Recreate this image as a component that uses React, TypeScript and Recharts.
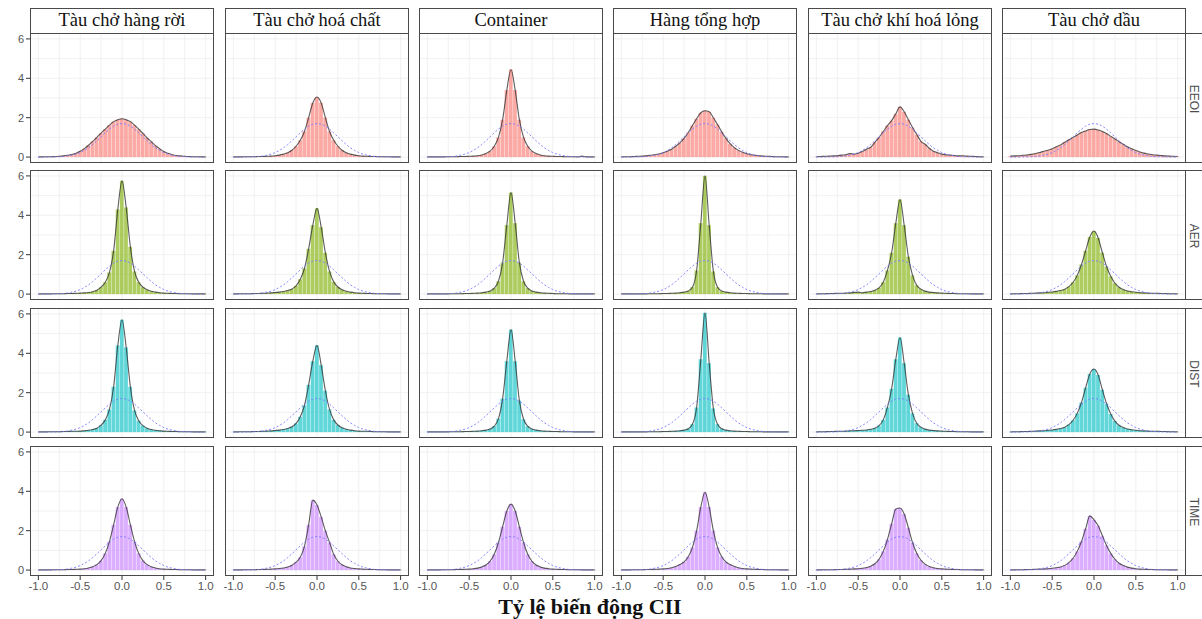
import React from 'react'
import { ComposedChart, Bar, Line, XAxis, YAxis, CartesianGrid } from 'recharts'

// ship types (columns) and CII metrics (rows)
const shipTypes = ['Tàu chở hàng rời', 'Tàu chở hoá chất', 'Container', 'Hàng tổng hợp', 'Tàu chở khí hoá lỏng', 'Tàu chở dầu']
const metrics = ['EEOI', 'AER', 'DIST', 'TIME']
const metricColors = ['#F8766D', '#7CAE00', '#00BFC4', '#C77CFF']

const xTicks = [-1, -0.5, 0, 0.5, 1]
const yTicks = [0, 2, 4, 6]
const gridX = [-1, -0.75, -0.5, -0.25, 0, 0.25, 0.5, 0.75, 1]
const gridY = [0, 1, 2, 3, 4, 5, 6]

// bin centres
const xs = [-1, -0.95, -0.9, -0.85, -0.8, -0.75, -0.7, -0.65, -0.6, -0.55, -0.5, -0.45, -0.4, -0.35, -0.3, -0.25, -0.2, -0.15, -0.1, -0.05,
  0, 0.05, 0.1, 0.15, 0.2, 0.25, 0.3, 0.35, 0.4, 0.45, 0.5, 0.55, 0.6, 0.65, 0.7, 0.75, 0.8, 0.85, 0.9, 0.95, 1]

// dashed reference curve (same in every panel)
const normalRef = [0, 0, 0, 0.01, 0.01, 0.02, 0.03, 0.06, 0.1, 0.15, 0.23, 0.34, 0.47, 0.64, 0.83, 1.03, 1.23, 1.42, 1.57, 1.67,
  1.7, 1.67, 1.57, 1.42, 1.23, 1.03, 0.83, 0.64, 0.47, 0.34, 0.23, 0.15, 0.1, 0.06, 0.03, 0.02, 0.01, 0.01, 0, 0, 0]

// EEOI
const eeoiBulk = [0.01, 0.01, 0.02, 0.02, 0.03, 0.04, 0.06, 0.09, 0.13, 0.2, 0.3, 0.43, 0.6, 0.8, 1.0, 1.22, 1.42, 1.62, 1.8, 1.9,
  1.95, 1.9, 1.8, 1.62, 1.42, 1.2, 0.98, 0.78, 0.58, 0.42, 0.28, 0.19, 0.12, 0.08, 0.06, 0.04, 0.03, 0.02, 0.02, 0.01, 0.01]
const eeoiChem = [0.01, 0.01, 0.01, 0.02, 0.02, 0.02, 0.03, 0.03, 0.04, 0.05, 0.07, 0.1, 0.15, 0.22, 0.35, 0.55, 0.85, 1.3, 2.0, 2.75,
  3.05, 2.75, 2.0, 1.3, 0.85, 0.55, 0.35, 0.22, 0.15, 0.1, 0.07, 0.05, 0.04, 0.03, 0.03, 0.02, 0.02, 0.02, 0.01, 0.01, 0.01]
const eeoiCont = [0.01, 0.01, 0.01, 0.01, 0.01, 0.02, 0.02, 0.02, 0.03, 0.03, 0.04, 0.05, 0.07, 0.11, 0.18, 0.3, 0.55, 1.0, 1.9, 3.4,
  4.45, 3.4, 1.9, 1.0, 0.55, 0.3, 0.18, 0.11, 0.07, 0.05, 0.04, 0.03, 0.03, 0.02, 0.02, 0.02, 0.01, 0.05, 0.01, 0.01, 0.01]
const eeoiGen = [0.01, 0.02, 0.02, 0.03, 0.04, 0.05, 0.07, 0.09, 0.12, 0.16, 0.22, 0.3, 0.4, 0.55, 0.72, 0.95, 1.25, 1.6, 1.95, 2.25,
  2.35, 2.3, 2.0, 1.65, 1.28, 0.95, 0.68, 0.48, 0.34, 0.24, 0.17, 0.12, 0.09, 0.07, 0.05, 0.04, 0.03, 0.02, 0.02, 0.01, 0.01]
const eeoiGas = [0.02, 0.03, 0.04, 0.05, 0.06, 0.07, 0.1, 0.12, 0.18, 0.15, 0.2, 0.28, 0.4, 0.5, 0.75, 1.0, 1.3, 1.6, 1.85, 2.2,
  2.55, 2.3, 1.9, 1.5, 1.15, 0.8, 0.65, 0.45, 0.3, 0.22, 0.15, 0.12, 0.1, 0.08, 0.06, 0.07, 0.05, 0.04, 0.03, 0.02, 0.01]
const eeoiTank = [0.05, 0.06, 0.07, 0.09, 0.11, 0.14, 0.18, 0.23, 0.3, 0.35, 0.42, 0.52, 0.62, 0.75, 0.88, 1.0, 1.12, 1.25, 1.33, 1.4,
  1.42, 1.38, 1.3, 1.2, 1.05, 0.92, 0.78, 0.65, 0.52, 0.42, 0.33, 0.26, 0.2, 0.16, 0.12, 0.1, 0.08, 0.06, 0.05, 0.04, 0.03]

// AER
const aerBulk = [0.01, 0.01, 0.01, 0.01, 0.02, 0.02, 0.02, 0.03, 0.03, 0.04, 0.05, 0.06, 0.08, 0.12, 0.2, 0.35, 0.6, 1.1, 2.2, 4.3,
  5.75, 4.4, 2.4, 1.15, 0.6, 0.35, 0.22, 0.14, 0.1, 0.07, 0.05, 0.04, 0.03, 0.03, 0.02, 0.02, 0.02, 0.01, 0.01, 0.01, 0.01]
const aerChem = [0.01, 0.01, 0.02, 0.02, 0.02, 0.03, 0.03, 0.04, 0.05, 0.06, 0.08, 0.1, 0.13, 0.18, 0.26, 0.42, 0.75, 1.3, 2.3, 3.5,
  4.35, 3.4, 2.1, 1.15, 0.62, 0.36, 0.22, 0.14, 0.1, 0.07, 0.05, 0.04, 0.03, 0.03, 0.02, 0.02, 0.02, 0.01, 0.01, 0.01, 0.01]
const aerCont = [0.01, 0.01, 0.01, 0.01, 0.01, 0.01, 0.02, 0.02, 0.02, 0.03, 0.03, 0.04, 0.05, 0.07, 0.1, 0.16, 0.3, 0.65, 1.6, 3.5,
  5.15, 3.6, 1.6, 0.65, 0.3, 0.16, 0.1, 0.07, 0.05, 0.04, 0.03, 0.02, 0.02, 0.02, 0.01, 0.01, 0.01, 0.01, 0.01, 0.01, 0.01]
const aerGen = [0.01, 0.01, 0.01, 0.01, 0.01, 0.01, 0.01, 0.02, 0.02, 0.02, 0.03, 0.03, 0.04, 0.05, 0.07, 0.1, 0.16, 0.35, 1.2, 3.6,
  6.0, 3.5, 1.15, 0.35, 0.16, 0.1, 0.07, 0.05, 0.04, 0.03, 0.03, 0.02, 0.02, 0.02, 0.01, 0.01, 0.01, 0.01, 0.01, 0.01, 0.01]
const aerGas = [0.01, 0.02, 0.02, 0.03, 0.03, 0.04, 0.04, 0.05, 0.06, 0.08, 0.1, 0.07, 0.1, 0.13, 0.2, 0.32, 0.6, 1.2, 2.1, 3.6,
  4.8, 3.5, 1.9, 0.95, 0.45, 0.25, 0.15, 0.1, 0.08, 0.06, 0.05, 0.04, 0.03, 0.03, 0.02, 0.02, 0.02, 0.01, 0.01, 0.01, 0.01]
const aerTank = [0.01, 0.02, 0.02, 0.03, 0.03, 0.04, 0.05, 0.06, 0.07, 0.09, 0.11, 0.14, 0.18, 0.25, 0.38, 0.6, 0.95, 1.5, 2.2, 2.9,
  3.2, 2.85, 2.1, 1.4, 0.9, 0.55, 0.35, 0.23, 0.16, 0.12, 0.09, 0.07, 0.06, 0.05, 0.04, 0.04, 0.03, 0.03, 0.02, 0.02, 0.01]

// DIST
const distBulk = [0.01, 0.01, 0.01, 0.02, 0.02, 0.02, 0.03, 0.03, 0.04, 0.04, 0.05, 0.07, 0.09, 0.13, 0.2, 0.35, 0.62, 1.15, 2.3, 4.4,
  5.7, 4.3, 2.3, 1.1, 0.58, 0.33, 0.2, 0.13, 0.09, 0.07, 0.05, 0.04, 0.03, 0.03, 0.02, 0.02, 0.02, 0.01, 0.01, 0.01, 0.01]
const distChem = [0.01, 0.01, 0.02, 0.02, 0.02, 0.03, 0.03, 0.04, 0.05, 0.06, 0.08, 0.1, 0.13, 0.18, 0.27, 0.44, 0.78, 1.35, 2.4, 3.6,
  4.4, 3.4, 2.1, 1.15, 0.62, 0.36, 0.22, 0.14, 0.1, 0.07, 0.05, 0.04, 0.04, 0.03, 0.02, 0.02, 0.02, 0.01, 0.01, 0.01, 0.01]
const distCont = [0.01, 0.01, 0.01, 0.01, 0.01, 0.01, 0.02, 0.02, 0.02, 0.03, 0.03, 0.04, 0.05, 0.07, 0.1, 0.16, 0.3, 0.68, 1.7, 3.6,
  5.2, 3.6, 1.6, 0.65, 0.3, 0.16, 0.1, 0.07, 0.05, 0.04, 0.03, 0.03, 0.02, 0.02, 0.02, 0.01, 0.01, 0.01, 0.01, 0.01, 0.01]
const distGen = [0.01, 0.01, 0.01, 0.01, 0.01, 0.01, 0.01, 0.02, 0.02, 0.02, 0.03, 0.03, 0.04, 0.05, 0.07, 0.1, 0.17, 0.4, 1.25, 3.7,
  6.05, 3.5, 1.2, 0.4, 0.17, 0.1, 0.07, 0.05, 0.04, 0.03, 0.03, 0.02, 0.02, 0.02, 0.01, 0.01, 0.01, 0.01, 0.01, 0.01, 0.01]
const distGas = [0.01, 0.02, 0.02, 0.03, 0.03, 0.04, 0.04, 0.05, 0.06, 0.07, 0.08, 0.09, 0.11, 0.14, 0.2, 0.33, 0.62, 1.25, 2.2, 3.7,
  4.8, 3.5, 1.9, 0.95, 0.45, 0.25, 0.15, 0.1, 0.08, 0.06, 0.05, 0.04, 0.03, 0.03, 0.02, 0.02, 0.02, 0.01, 0.01, 0.01, 0.01]
const distTank = [0.01, 0.02, 0.02, 0.03, 0.03, 0.04, 0.05, 0.06, 0.07, 0.09, 0.11, 0.14, 0.18, 0.25, 0.38, 0.6, 0.95, 1.5, 2.25, 2.95,
  3.2, 2.9, 2.15, 1.45, 0.92, 0.56, 0.35, 0.23, 0.16, 0.12, 0.09, 0.07, 0.06, 0.05, 0.04, 0.04, 0.03, 0.03, 0.02, 0.02, 0.01]

// TIME
const timeBulk = [0.01, 0.01, 0.01, 0.01, 0.02, 0.02, 0.02, 0.03, 0.03, 0.04, 0.05, 0.07, 0.11, 0.17, 0.28, 0.48, 0.85, 1.45, 2.3, 3.2,
  3.62, 3.2, 2.3, 1.45, 0.85, 0.48, 0.28, 0.17, 0.11, 0.07, 0.05, 0.04, 0.03, 0.03, 0.02, 0.02, 0.02, 0.01, 0.01, 0.01, 0.01]
const timeChem = [0.01, 0.01, 0.01, 0.02, 0.02, 0.02, 0.03, 0.03, 0.04, 0.05, 0.06, 0.08, 0.11, 0.16, 0.25, 0.4, 0.65, 1.2, 2.3, 3.55,
  3.3, 2.7, 2.0, 1.4, 0.8, 0.45, 0.27, 0.17, 0.11, 0.08, 0.06, 0.05, 0.04, 0.03, 0.03, 0.02, 0.02, 0.01, 0.01, 0.01, 0.01]
const timeCont = [0.01, 0.01, 0.01, 0.01, 0.02, 0.02, 0.02, 0.03, 0.03, 0.04, 0.05, 0.07, 0.1, 0.16, 0.26, 0.45, 0.8, 1.4, 2.2, 3.0,
  3.35, 3.0, 2.2, 1.4, 0.8, 0.45, 0.26, 0.16, 0.1, 0.07, 0.05, 0.04, 0.03, 0.03, 0.02, 0.02, 0.02, 0.01, 0.01, 0.01, 0.01]
const timeGen = [0.01, 0.01, 0.01, 0.02, 0.02, 0.02, 0.03, 0.03, 0.04, 0.05, 0.06, 0.08, 0.12, 0.18, 0.28, 0.42, 0.68, 1.15, 2.0, 3.2,
  3.95, 3.2, 2.0, 1.15, 0.68, 0.42, 0.28, 0.18, 0.12, 0.08, 0.06, 0.05, 0.04, 0.03, 0.03, 0.02, 0.02, 0.02, 0.01, 0.01, 0.01]
const timeGas = [0.01, 0.01, 0.02, 0.02, 0.02, 0.03, 0.03, 0.04, 0.05, 0.06, 0.07, 0.09, 0.13, 0.2, 0.32, 0.55, 0.95, 1.55, 2.35, 3.1,
  3.15, 2.85, 2.15, 1.4, 0.85, 0.5, 0.3, 0.18, 0.12, 0.08, 0.06, 0.05, 0.04, 0.03, 0.03, 0.02, 0.02, 0.02, 0.01, 0.01, 0.01]
const timeTank = [0.01, 0.01, 0.02, 0.02, 0.03, 0.03, 0.04, 0.05, 0.06, 0.07, 0.09, 0.12, 0.16, 0.24, 0.38, 0.6, 0.95, 1.45, 2.1, 2.75,
  2.55, 2.25, 1.75, 1.25, 0.85, 0.55, 0.35, 0.23, 0.15, 0.1, 0.07, 0.05, 0.04, 0.03, 0.03, 0.02, 0.02, 0.02, 0.01, 0.01, 0.01]

const series = [
  [eeoiBulk, eeoiChem, eeoiCont, eeoiGen, eeoiGas, eeoiTank],
  [aerBulk, aerChem, aerCont, aerGen, aerGas, aerTank],
  [distBulk, distChem, distCont, distGen, distGas, distTank],
  [timeBulk, timeChem, timeCont, timeGen, timeGas, timeTank],
]

// layout
const COL_X = [30, 225, 419, 613, 808, 1002]
const ROW_Y = [33, 170, 308, 446]
const PW = 184
const PH = 130
const Y_AXIS_W = 22
const X_AXIS_H = 24
const PAD = 9 // room for the "-1.0" / "1.0" tick labels outside the panel
const BORDER = '1.5px solid #4a4a4a'
const SANS = '"Liberation Sans", Arial, sans-serif'
const SERIF = '"Liberation Serif", "Times New Roman", serif'

function Panel({ r, c }: { r: number; c: number }) {
  const first = c === 0
  const last = r === metrics.length - 1
  const values = series[r][c]
  const data = xs.map((x, i) => ({ x, v: values[i], n: normalRef[i] }))
  const left = first ? Y_AXIS_W : PAD
  const w = left + PW + PAD
  const h = PH + (last ? X_AXIS_H : 0)
  const color = metricColors[r]

  return (
    <div style={{ position: 'absolute', left: COL_X[c] - left, top: ROW_Y[r], width: w, height: h }}>
      <ComposedChart width={w} height={h} data={data} margin={{ top: 0, right: PAD, bottom: 0, left: first ? 0 : PAD }}>
        <CartesianGrid stroke="#eeeeee" strokeWidth={0.8} horizontalValues={gridY} verticalValues={gridX} />
        <XAxis
          type="number"
          dataKey="x"
          domain={[-1.1, 1.1]}
          ticks={xTicks}
          interval={0}
          allowDataOverflow
          hide={!last}
          height={X_AXIS_H}
          axisLine={false}
          tickSize={4}
          tickLine={{ stroke: '#333' }}
          tick={{ fill: '#555', fontSize: 11.5, fontFamily: SANS }}
          tickFormatter={(v: number) => v.toFixed(1)}
        />
        <YAxis
          type="number"
          domain={[-0.3, 6.3]}
          ticks={yTicks}
          interval={0}
          allowDataOverflow
          hide={!first}
          width={Y_AXIS_W}
          axisLine={false}
          tickSize={4}
          tickLine={{ stroke: '#333' }}
          tick={{ fill: '#555', fontSize: 11, fontFamily: SANS }}
        />
        <Bar dataKey="v" fill={color} fillOpacity={0.62} barSize={3.8} isAnimationActive={false} />
        <Line type="monotone" dataKey="v" stroke="#333" strokeOpacity={0.8} strokeWidth={1.1} dot={false} isAnimationActive={false} />
        <Line type="monotone" dataKey="n" stroke="#7b7bff" strokeWidth={0.9} strokeDasharray="2 2" dot={false} isAnimationActive={false} />
      </ComposedChart>
      <div style={{
        position: 'absolute', left, top: 0, width: PW, height: PH,
        border: BORDER, boxSizing: 'border-box', pointerEvents: 'none',
      }} />
    </div>
  )
}

export default function App() {
  return (
    <div style={{ position: 'relative', width: 1202, height: 619, overflow: 'hidden', background: '#fff' }}>
      <style>{'body{margin:0}'}</style>

      {shipTypes.map((name, c) => (
        <div key={name} style={{
          position: 'absolute', left: COL_X[c], top: 8, width: PW, height: 26,
          border: BORDER, boxSizing: 'border-box', background: '#fff',
          fontFamily: SERIF, fontSize: 18.5, color: '#111', textAlign: 'center', lineHeight: '23px',
          whiteSpace: 'nowrap',
        }}>{name}</div>
      ))}

      {metrics.map((m, r) => (
        <div key={m} style={{
          position: 'absolute', left: COL_X[5] + PW - 1.5, top: ROW_Y[r], width: 30, height: PH,
          border: BORDER, boxSizing: 'border-box',
        }}>
          <div style={{
            position: 'absolute', left: 8.5, top: PH / 2 - 10, width: 0, height: 20,
            display: 'flex', alignItems: 'center', justifyContent: 'center',
          }}>
            <span style={{
              transform: 'rotate(90deg)', whiteSpace: 'nowrap', fontFamily: SANS, fontSize: 12, lineHeight: '12px',
              color: '#4d4d4d',
            }}>{m}</span>
          </div>
        </div>
      ))}

      {metrics.map((m, r) => shipTypes.map((s, c) => <Panel key={m + s} r={r} c={c} />))}

      <div style={{
        position: 'absolute', left: 390, top: 594, width: 400, textAlign: 'center',
        fontFamily: SERIF, fontWeight: 'bold', fontSize: 22, color: '#111',
      }}>Tỷ lệ biến động CII</div>
    </div>
  )
}
